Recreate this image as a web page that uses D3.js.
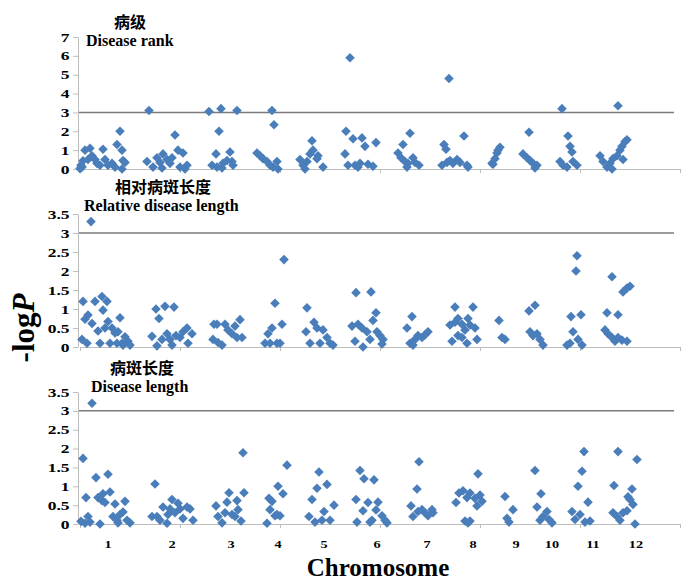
<!DOCTYPE html>
<html>
<head>
<meta charset="utf-8">
<script src="https://cdn.jsdelivr.net/npm/d3@7"></script>
<style>
  body { margin: 0; background: #fff; }
  svg text { font-family: "Liberation Serif", "Times New Roman", serif; font-weight: bold; fill: #000; }
  .cn { font-family: "Noto Sans CJK SC", sans-serif !important; }
</style>
</head>
<body>
<svg id="chart" width="683" height="583"></svg>
<script>
// [map position, -logP] for each trait
var rankData = [
  [0,0.02],[1,0.2],[2,0.1],[3,0.44],[5,1.0],[8,0.5],[10,1.1],[12,0.7],[15,0.5],[17,0.3],[20,0.2],[23,1.05],[25,0.5],[28,0.2],[32,0.3],[35,0.1],[37,1.3],[40,2.0],[42,1.0],[42,0.0],[43,0.45],[45,0.35],
  [69,3.1],[67,0.4],[73,0.1],[77,0.6],[80,0.35],[82,0.05],[83,0.8],[87,0.5],[90,0.3],[92,0.6],[95,1.8],[98,1.0],[100,0.1],[103,0.85],[105,0.0],[107,0.2],
  [129,3.05],[141,3.2],[157,3.1],[139,2.0],[136,0.8],[132,0.2],[137,0.1],[142,0.05],[143,0.3],[147,0.45],[150,0.9],[152,0.4],[153,0.2],
  [192,3.1],[194,2.35],[177,0.85],[180,0.7],[183,0.55],[187,0.4],[190,0.2],[193,0.1],[197,0.4],[198,0.0],
  [220,0.5],[223,0.2],[225,0.0],[227,0.4],[230,0.8],[232,1.5],[233,1.0],[237,0.55],[238,0.7],[243,0.1],
  [266,2.0],[265,0.8],[268,0.2],[270,5.9],[273,1.6],[275,0.2],[278,0.1],[282,1.65],[285,1.2],[288,0.25],[293,0.15],[296,1.4],[280,0.3],
  [318,0.85],[323,1.3],[330,1.9],[321,0.6],[325,0.4],[328,0.3],[327,0.1],[333,0.6],[335,0.35],[339,0.2],
  [364,1.3],[366,1.05],[369,4.8],[362,0.2],[367,0.35],[370,0.45],[373,0.3],[377,0.5],[380,0.35],[384,1.75],[387,0.2],[388,0.1],
  [412,0.3],[413,0.25],[415,0.55],[417,0.85],[418,1.0],[420,1.15],
  [449,1.95],[443,0.8],[447,0.6],[450,0.45],[453,0.3],[457,0.2],[455,0.05],
  [482,3.2],[488,1.75],[490,1.2],[492,0.9],[480,0.4],[483,0.2],[487,0.1],[493,0.4],[497,0.2],
  [538,3.35],[520,0.7],[523,0.4],[527,0.1],[530,0.3],[533,0.55],[537,0.7],[540,1.0],[543,0.5],[545,1.45],[542,1.2],[532,0.0],[547,1.55]
];
var relLengthData = [
  [11,3.3],[3,1.2],[2,0.2],[7,0.1],[5,0.73],[8,0.84],[12,0.62],[15,1.2],[18,0.42],[20,0.1],[22,1.33],[27,1.2],[23,0.97],[25,0.5],[28,0.67],[30,0.1],[32,0.5],[35,0.37],[37,0.1],[40,0.77],[38,0.4],[42,0.1],[45,0.27],[48,0.15],[50,0.05],[43,0.05],
  [72,0.28],[76,1.0],[79,0.75],[77,0.03],[85,1.07],[82,0.2],[87,0.35],[90,0.2],[94,1.05],[92,0.05],[96,0.3],[100,0.25],[103,0.4],[107,0.5],[108,0.1],[112,0.35],
  [134,0.6],[137,0.6],[133,0.2],[138,0.12],[142,0.05],[145,0.6],[148,0.45],[152,0.35],[155,0.55],[160,0.72],[157,0.25],[162,0.25],
  [185,0.1],[188,0.35],[192,0.5],[195,1.15],[197,0.1],[200,0.1],[202,0.6],[204,2.3],[190,0.1],
  [227,1.03],[226,0.4],[230,0.1],[234,0.65],[237,0.5],[240,0.1],[243,0.45],[247,0.25],[250,0.1],[253,0.05],
  [276,1.43],[291,1.45],[272,0.55],[275,0.15],[278,0.6],[282,0.5],[283,0.0],[287,0.4],[290,0.2],[293,0.7],[296,0.9],[297,0.4],[300,0.3],[303,0.2],[302,0.08],
  [327,0.5],[332,0.8],[330,0.1],[335,0.2],[338,0.3],[342,0.25],[345,0.32],[348,0.4],[333,0.05],
  [375,1.05],[393,1.05],[370,0.58],[375,0.65],[378,0.75],[382,0.6],[385,0.45],[388,0.75],[390,0.58],[395,0.5],[372,0.15],[378,0.3],[382,0.25],[387,0.1],[397,0.2],
  [419,0.7],[422,0.25],[425,0.2],
  [449,0.95],[455,1.1],[450,0.4],[453,0.3],[457,0.35],[460,0.2],[463,0.05],
  [497,2.4],[496,2.0],[491,0.8],[501,0.85],[493,0.4],[487,0.05],[490,0.1],[498,0.2],[502,0.05],
  [532,1.85],[543,1.45],[547,1.55],[550,1.6],[527,0.9],[538,0.85],[525,0.45],[528,0.35],[532,0.25],[535,0.15],[538,0.25],[542,0.18],[547,0.15]
];
var lengthData = [
  [12,3.2],[3,1.74],[1,0.07],[5,0.02],[6,0.7],[8,0.2],[10,0.05],[16,1.23],[18,0.7],[20,0.0],[22,0.62],[23,0.8],[25,0.57],[28,1.32],[30,0.85],[33,0.2],[35,0.53],[38,0.03],[40,0.25],[43,0.32],[45,0.6],[47,0.1],[50,0.03],[37,0.1],
  [75,1.06],[72,0.2],[77,0.2],[80,0.1],[83,0.45],[87,0.02],[88,0.25],[92,0.65],[90,0.4],[95,0.3],[98,0.55],[100,0.4],[103,0.15],[107,0.45],[110,0.4],[113,0.1],
  [136,0.48],[138,0.2],[142,0.03],[145,0.3],[147,0.58],[149,0.83],[152,0.25],[155,0.2],[157,0.62],[158,0.38],[161,0.08],[163,1.89],[164,0.83],
  [187,0.02],[189,0.68],[192,0.6],[190,0.38],[195,0.22],[198,1.0],[200,0.22],[203,0.8],[207,1.56],[197,0.25],
  [229,0.2],[232,0.65],[235,0.05],[237,0.95],[239,1.38],[242,0.1],[244,0.33],[247,1.05],[250,0.1],[254,0.5],
  [280,1.42],[284,1.2],[276,0.65],[277,0.05],[283,0.35],[288,0.57],[290,0.05],[294,1.17],[296,0.37],[298,0.58],[302,0.22],[305,0.1],[307,0.03],[292,0.1],
  [339,1.65],[337,0.93],[331,0.48],[333,0.2],[338,0.33],[342,0.38],[345,0.3],[348,0.22],[352,0.38],[353,0.3],
  [376,0.57],[379,0.82],[383,0.88],[387,0.7],[390,0.82],[385,0.08],[390,0.08],[388,0.03],[395,0.68],[397,0.48],[400,0.77],[402,0.6],[398,1.33],
  [425,0.73],[427,0.15],[429,0.05],[433,0.38],
  [455,1.42],[461,0.8],[457,0.45],[460,0.1],[463,0.2],[467,0.33],[469,0.12],[472,0.03],
  [504,1.92],[502,1.4],[498,1.0],[508,0.58],[492,0.33],[495,0.12],[500,0.25],[505,0.05],[510,0.08],
  [538,1.92],[557,1.71],[534,1.02],[552,0.93],[548,0.72],[550,0.65],[553,0.52],[533,0.3],[537,0.2],[540,0.1],[543,0.3],[547,0.35],[555,0.0]
];

var chromNames = ["1","2","3","4","5","6","7","8","9","10","11","12"];
var chromCenters = [28,92,151,198,244,297,347,393,436,472,513,556];
var rankTicks = [0,1,2,3,4,5,6,7];
var lengthTicks = [0,0.5,1,1.5,2,2.5,3,3.5];
var xTicks = [0,100,200,300,400,500,600];
var threshold = 3;

var panels = [
  { data: rankData, max: 7, ticks: rankTicks, top: 37, bottom: 169,
    cn: "病级", cnX: 130, cnY: 28, en: "Disease rank", enX: 86, enY: 46 },
  { data: relLengthData, max: 3.5, ticks: lengthTicks, top: 214, bottom: 347,
    cn: "相对病斑长度", cnX: 163, cnY: 193, en: "Relative disease length", enX: 84, enY: 211 },
  { data: lengthData, max: 3.5, ticks: lengthTicks, top: 392, bottom: 524,
    cn: "病斑长度", cnX: 142, cnY: 374, en: "Disease length", enX: 91, enY: 392 }
];

var svg = d3.select("#chart");
var x = d3.scaleLinear().domain([0, 600]).range([80, 680]);

// square turned on its corner, as in the spreadsheet marker
var diamond = {
  draw: function(context, size) {
    var r = Math.sqrt(size / 2);
    context.moveTo(0, -r);
    context.lineTo(r, 0);
    context.lineTo(0, r);
    context.lineTo(-r, 0);
    context.closePath();
  }
};

panels.forEach(function(p) {
  var y = d3.scaleLinear().domain([0, p.max]).range([p.bottom, p.top]);
  var g = svg.append("g");

  // threshold line
  g.append("line")
    .attr("x1", 78).attr("x2", 674)
    .attr("y1", y(threshold)).attr("y2", y(threshold))
    .attr("stroke", "#7a7a7a")
    .attr("stroke-width", 1.5);

  var xAxis = d3.axisBottom(x).tickValues(xTicks).tickSize(4).tickSizeOuter(0).tickFormat("");
  g.append("g")
    .attr("class", "x_axis")
    .attr("transform", "translate(0," + p.bottom + ")")
    .call(xAxis);

  var yAxis = d3.axisLeft(y).tickValues(p.ticks).tickSize(5).tickSizeOuter(0).tickFormat(d3.format("~g"));
  g.append("g")
    .attr("class", "y_axis")
    .attr("transform", "translate(78,0)")
    .call(yAxis);

  g.selectAll(".domain, .tick line").attr("stroke", "#bdbdbd");
  g.select(".y_axis").selectAll("text")
    .attr("x", -6)
    .attr("transform", "scale(1.4,1)")
    .style("font-size", "12.5px")
    .style("font-family", "'Liberation Serif', serif")
    .style("font-weight", "bold")
    .attr("fill", "#000");

  g.selectAll(".pt")
    .data(p.data)
    .enter()
    .append("path")
    .attr("class", "pt")
    .attr("d", d3.symbol().type(diamond).size(46))
    .attr("transform", function(d) { return "translate(" + x(d[0]) + "," + y(d[1]) + ")"; })
    .attr("fill", "#4a7ebb");

  g.append("text")
    .attr("class", "cn")
    .attr("x", p.cnX).attr("y", p.cnY)
    .attr("text-anchor", "middle")
    .style("font-size", "16px")
    .text(p.cn);

  g.append("text")
    .attr("x", p.enX).attr("y", p.enY)
    .style("font-size", "16px")
    .text(p.en);
});

// chromosome labels under the last panel
svg.selectAll(".chrom")
  .data(chromNames)
  .enter()
  .append("text")
  .attr("class", "chrom")
  .attr("text-anchor", "middle")
  .attr("transform", function(d, i) { return "translate(" + x(chromCenters[i]) + ",548)scale(1.3,1)"; })
  .style("font-size", "11px")
  .text(function(d) { return d; });

svg.append("text")
  .attr("x", 378).attr("y", 576)
  .attr("text-anchor", "middle")
  .style("font-size", "25px")
  .text("Chromosome");

var ylab = svg.append("text")
  .attr("transform", "translate(34,328)rotate(-90)")
  .attr("text-anchor", "middle")
  .style("font-size", "31px");
ylab.append("tspan").text("-log");
ylab.append("tspan").style("font-style", "italic").text("P");
</script>
</body>
</html>
